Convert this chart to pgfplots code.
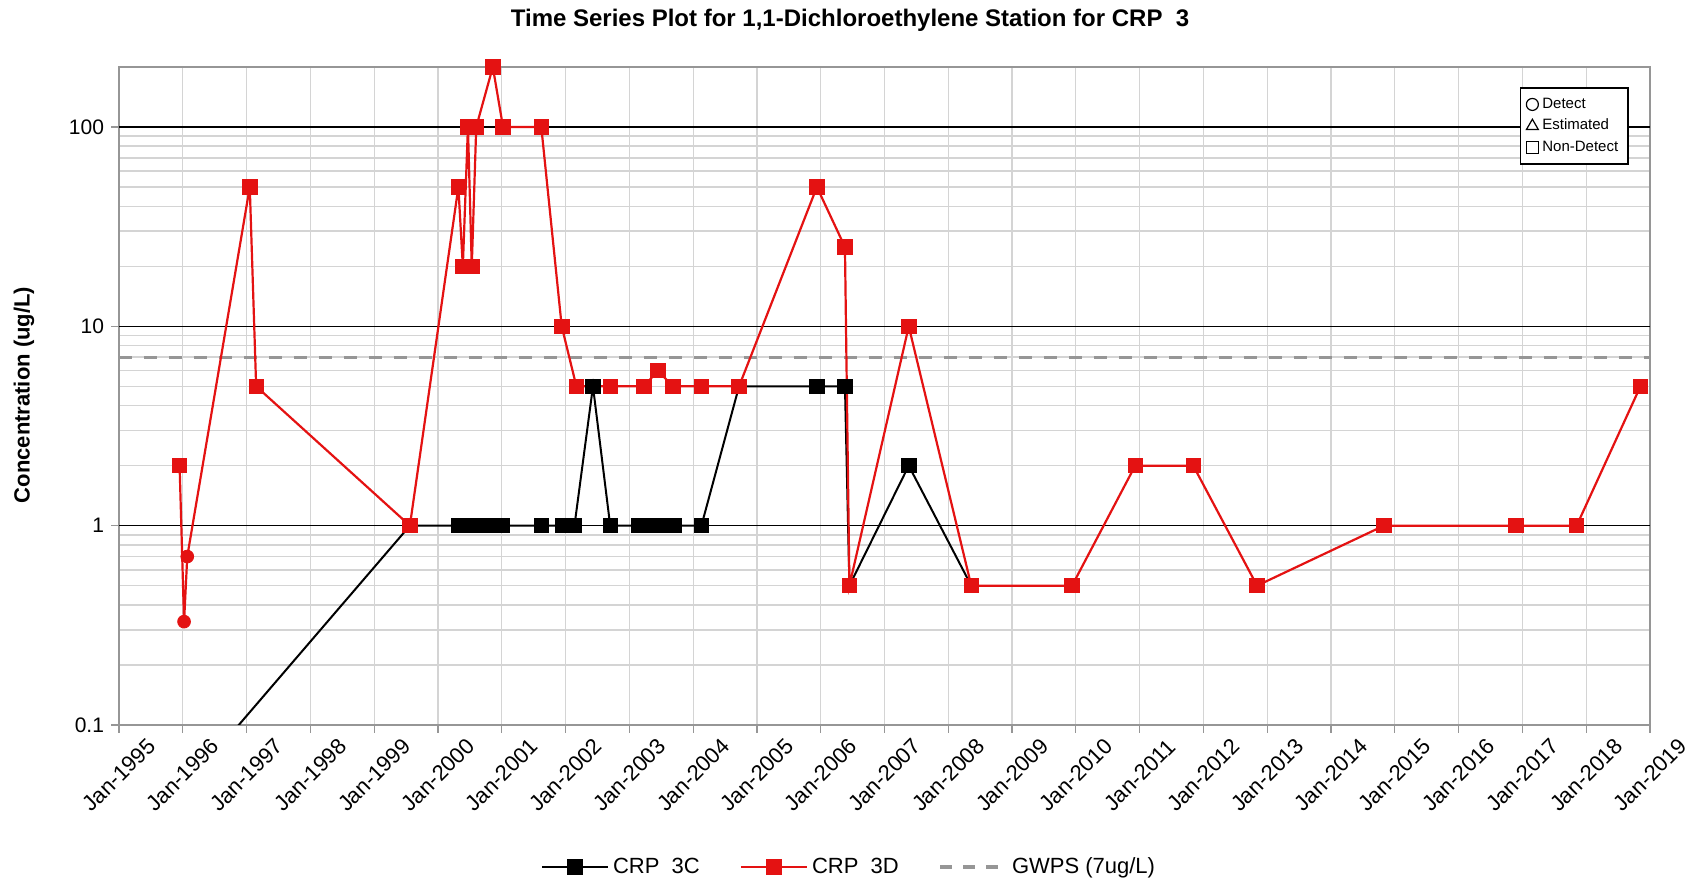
\documentclass[border=0pt]{standalone}
\usepackage{fontspec}
\setmainfont{Liberation Sans}
\usepackage{pgfplots}
\pgfplotsset{compat=1.18}
\definecolor{myred}{RGB}{228,18,18}
\definecolor{gridgray}{RGB}{212,212,212}
\definecolor{gwps}{RGB}{150,150,150}
\definecolor{framegray}{RGB}{150,150,150}

\begin{document}
\begin{tikzpicture}
\path[use as bounding box] (-59.5pt,-80.5pt) rectangle (789pt,362.5pt);
\begin{axis}[
  at={(0pt,0pt)}, anchor=south west,
  scale only axis, width=765.5pt, height=329pt,
  xmin=1995, xmax=2019,
  ymode=log, ymin=0.1, ymax=200,
  xtick={1995,1996,...,2019},
  xticklabels={Jan-1995,Jan-1996,Jan-1997,Jan-1998,Jan-1999,Jan-2000,Jan-2001,Jan-2002,Jan-2003,Jan-2004,Jan-2005,Jan-2006,Jan-2007,Jan-2008,Jan-2009,Jan-2010,Jan-2011,Jan-2012,Jan-2013,Jan-2014,Jan-2015,Jan-2016,Jan-2017,Jan-2018,Jan-2019},
  xticklabel style={rotate=45, anchor=center, font=\fontsize{11}{13}\selectfont},
  xticklabel shift=21pt,
  ytick={0.1,1,10,100},
  yticklabels={0.1,1,10,100},
  minor ytick={0.2,0.3,0.4,0.5,0.6,0.7,0.8,0.9,2,3,4,5,6,7,8,9,20,30,40,50,60,70,80,90},
  extra y ticks={1,10,100},
  extra y tick labels={},
  extra y tick style={grid=major, major grid style={black, line width=0.7pt}, major tick length=0pt},
  xmajorgrids, yminorgrids,
  major grid style={gridgray, line width=0.6pt},
  minor grid style={gridgray, line width=0.8pt},
  tick align=outside, tick pos=left,
  major tick length=4pt, minor tick length=0pt,
  tick style={framegray, line width=0.6pt},
  axis line style={framegray, line width=0.8pt},
  yticklabel style={font=\fontsize{10.5}{12}\selectfont},
  title={Time Series Plot for 1,1-Dichloroethylene Station for CRP\ \ 3},
  title style={at={(axis description cs:0.4775,1.052)}, anchor=center, font=\fontsize{12}{14}\selectfont\bfseries},
  ylabel={Concentration (ug/L)},
  ylabel style={at={(axis description cs:-0.0621,0.5015)}, anchor=center, font=\fontsize{11}{13}\selectfont\bfseries},
  legend style={at={(axis description cs:0.4775,-0.2158)}, anchor=center, draw=none, fill=none,
    font=\fontsize{11}{13}\selectfont, legend columns=3,
    /tikz/every even column/.append style={column sep=18pt}},
  legend image code/.code={\draw[mark repeat=2,mark phase=2,#1] plot coordinates {(0pt,0pt) (16.5pt,0pt) (33pt,0pt)};},
]
% legend entries
\addlegendimage{black, line width=1pt, mark=square*, mark size=3.6pt, mark options={solid}}
\addlegendentry{CRP\ \ 3C}
\addlegendimage{myred, line width=1.1pt, mark=square*, mark size=3.6pt, mark options={solid}}
\addlegendentry{CRP\ \ 3D}
\addlegendimage{gwps, line width=1.6pt, dash pattern=on 6pt off 5.5pt}
\addlegendentry{GWPS (7ug/L)}

% GWPS
\addplot[forget plot, gwps, line width=1.6pt, dash pattern=on 6.5pt off 6pt] coordinates {(1995,7) (2019,7)};

% CRP 3C line
\addplot[forget plot, black, line width=1pt, mark=none] coordinates {
(1996.07,0.05) (1999.56,1) (2000.33,1) (2000.42,1) (2000.53,1) (2000.62,1) (2000.85,1) (2001.00,1)
(2001.62,1) (2001.96,1) (2002.14,1) (2002.43,5) (2002.70,1) (2003.15,1) (2003.37,1) (2003.53,1)
(2003.71,1) (2004.13,1) (2004.72,5) (2005.94,5) (2006.38,5) (2006.45,0.5) (2007.38,2) (2008.36,0.5)
};
% CRP 3C marks
\addplot[forget plot, only marks, black, mark=square*, mark size=3.6pt] coordinates {
(1999.56,1) (2000.33,1) (2000.42,1) (2000.53,1) (2000.62,1) (2000.85,1) (2001.00,1)
(2001.62,1) (2001.96,1) (2002.14,1) (2002.43,5) (2002.70,1) (2003.15,1) (2003.37,1) (2003.53,1)
(2003.71,1) (2004.13,1) (2004.72,5) (2005.94,5) (2006.38,5) (2006.45,0.5) (2007.38,2) (2008.36,0.5)
};

% CRP 3D line
\addplot[forget plot, myred, line width=1.1pt, mark=none] coordinates {
(1995.95,2) (1996.02,0.33) (1996.07,0.7) (1997.05,50) (1997.15,5) (1999.56,1)
(2000.32,50) (2000.39,20) (2000.47,100) (2000.53,20) (2000.60,100) (2000.86,200) (2001.02,100)
(2001.62,100) (2001.94,10) (2002.17,5) (2002.70,5) (2003.23,5) (2003.45,6) (2003.68,5) (2004.13,5)
(2004.72,5) (2005.94,50) (2006.38,25) (2006.45,0.5) (2007.38,10) (2008.36,0.5) (2009.94,0.5)
(2010.93,2) (2011.84,2) (2012.84,0.5) (2014.83,1) (2016.90,1) (2017.85,1) (2018.85,5)
};
% CRP 3D square marks (non-detect)
\addplot[forget plot, only marks, myred, mark=square*, mark size=3.6pt] coordinates {
(1995.95,2) (1997.05,50) (1997.15,5) (1999.56,1)
(2000.32,50) (2000.39,20) (2000.47,100) (2000.53,20) (2000.60,100) (2000.86,200) (2001.02,100)
(2001.62,100) (2001.94,10) (2002.17,5) (2002.70,5) (2003.23,5) (2003.45,6) (2003.68,5) (2004.13,5)
(2004.72,5) (2005.94,50) (2006.38,25) (2006.45,0.5) (2007.38,10) (2008.36,0.5) (2009.94,0.5)
(2010.93,2) (2011.84,2) (2012.84,0.5) (2014.83,1) (2016.90,1) (2017.85,1) (2018.85,5)
};
% CRP 3D circle marks (detect)
\addplot[forget plot, only marks, myred, mark=*, mark size=3.2pt] coordinates {
(1996.02,0.33) (1996.07,0.7)
};
\end{axis}

% symbol key box
\begin{axis}[
  at={(0pt,0pt)}, anchor=south west,
  scale only axis, width=765.5pt, height=329pt,
  hide axis, xmin=0, xmax=1, ymin=0, ymax=1,
  legend style={at={(axis description cs:0.9863,0.9696)}, anchor=north east,
    draw=black, line width=0.8pt, fill=white, font=\fontsize{7.5}{9}\selectfont,
    legend cell align=left, row sep=0pt, inner xsep=3pt, inner ysep=3pt},
  legend image code/.code={\draw[#1, line width=0.6pt] plot coordinates {(3pt,0pt)};},
]
\addplot[forget plot, draw=none] coordinates {(0.5,0.5)};
\addlegendimage{only marks, black, mark=o, mark size=3pt}
\addlegendentry{Detect}
\addlegendimage{only marks, black, mark=triangle, mark size=3.4pt}
\addlegendentry{Estimated}
\addlegendimage{only marks, black, mark=square, mark size=3pt}
\addlegendentry{Non-Detect}
\end{axis}
\end{tikzpicture}
\end{document}
